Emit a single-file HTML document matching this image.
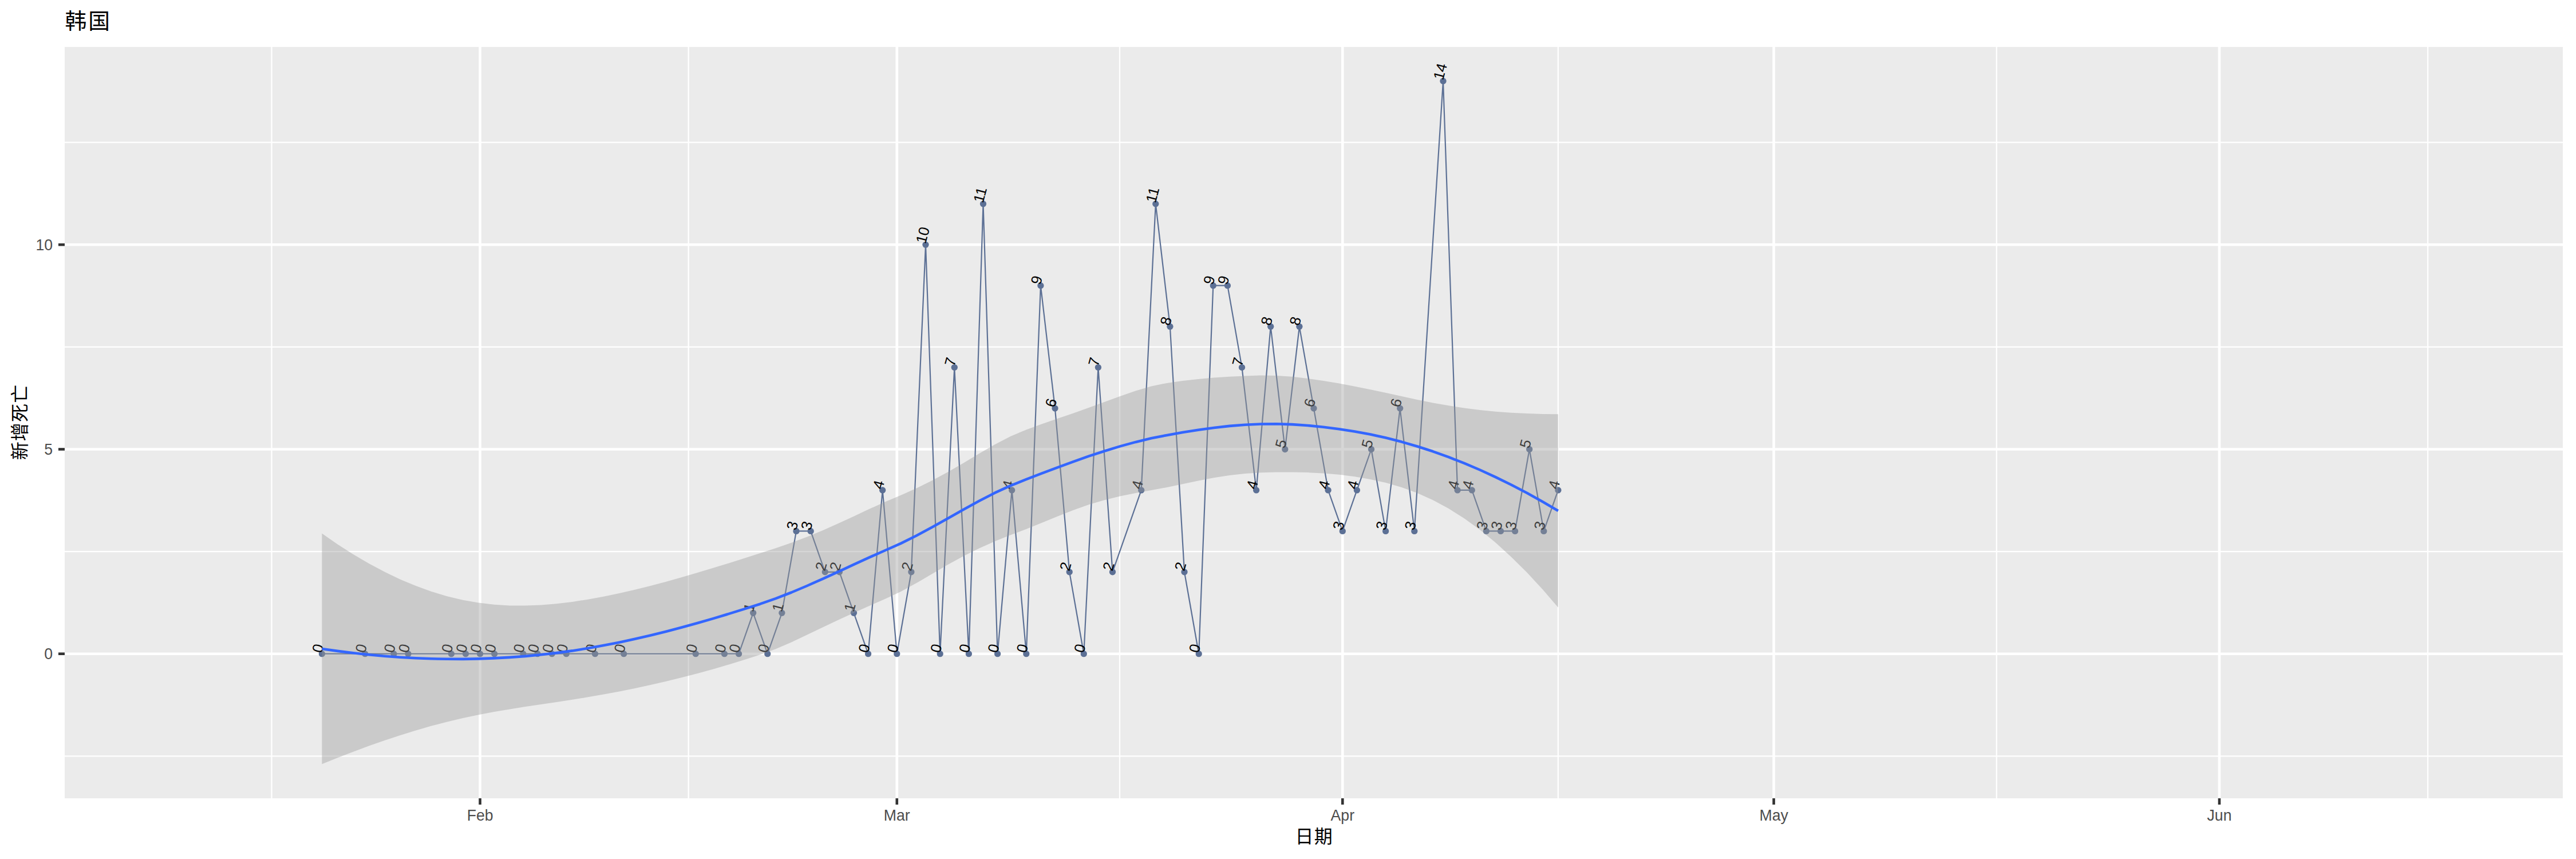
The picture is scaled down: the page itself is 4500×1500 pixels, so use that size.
<!DOCTYPE html>
<html lang="zh"><head><meta charset="utf-8"><title>韩国 新增死亡</title>
<style>
html,body{margin:0;padding:0;background:#fff;}
body{width:4500px;height:1500px;overflow:hidden;}
svg{display:block;}
text{font-family:"Liberation Sans","Noto Sans CJK SC",sans-serif;}
.cjk{font-family:"Liberation Sans","Noto Sans CJK SC",sans-serif;fill:#000;}
.tick{fill:#4D4D4D;font-size:26.67px;}
.lab{fill:#000;font-size:25.8px;}
.gmaj{stroke:#fff;stroke-width:4.6;fill:none;}
.gmin{stroke:#fff;stroke-width:2.3;fill:none;}
.tk{stroke:#333;stroke-width:4.6;fill:none;}
</style></head><body>
<svg width="4500" height="1500" viewBox="0 0 4500 1500">
<rect x="0" y="0" width="4500" height="1500" fill="#fff"/>
<rect x="113" y="82" width="4364" height="1312" fill="#EBEBEB"/>
<g class="gmin">
<line x1="113" x2="4477" y1="1320.3" y2="1320.3"/>
<line x1="113" x2="4477" y1="963.1" y2="963.1"/>
<line x1="113" x2="4477" y1="605.9" y2="605.9"/>
<line x1="113" x2="4477" y1="248.7" y2="248.7"/>
<line y1="82" y2="1394" x1="474.5" x2="474.5"/>
<line y1="82" y2="1394" x1="1202.7" x2="1202.7"/>
<line y1="82" y2="1394" x1="1956" x2="1956"/>
<line y1="82" y2="1394" x1="2721.9" x2="2721.9"/>
<line y1="82" y2="1394" x1="3487.8" x2="3487.8"/>
<line y1="82" y2="1394" x1="4241.1" x2="4241.1"/>
</g><g class="gmaj">
<line x1="113" x2="4477" y1="1141.7" y2="1141.7"/>
<line x1="113" x2="4477" y1="784.5" y2="784.5"/>
<line x1="113" x2="4477" y1="427.3" y2="427.3"/>
<line y1="82" y2="1394" x1="838.6" x2="838.6"/>
<line y1="82" y2="1394" x1="1566.8" x2="1566.8"/>
<line y1="82" y2="1394" x1="2345.3" x2="2345.3"/>
<line y1="82" y2="1394" x1="3098.6" x2="3098.6"/>
<line y1="82" y2="1394" x1="3877" x2="3877"/>
</g>
<polyline points="562.4,1141.7 637.7,1141.7 687.9,1141.7 713,1141.7 788.4,1141.7 813.5,1141.7 838.6,1141.7 863.7,1141.7 913.9,1141.7 939,1141.7 964.2,1141.7 989.3,1141.7 1039.5,1141.7 1089.7,1141.7 1215.3,1141.7 1265.5,1141.7 1290.6,1141.7 1315.7,1070.3 1340.8,1141.7 1365.9,1070.3 1391,927.4 1416.2,927.4 1441.3,998.8 1466.4,998.8 1491.5,1070.3 1516.6,1141.7 1541.7,855.9 1566.8,1141.7 1591.9,998.8 1617,427.3 1642.2,1141.7 1667.3,641.6 1692.4,1141.7 1717.5,355.9 1742.6,1141.7 1767.7,855.9 1792.8,1141.7 1817.9,498.7 1843,713.1 1868.2,998.8 1893.3,1141.7 1918.4,641.6 1943.5,998.8 1993.7,855.9 2018.8,355.9 2043.9,570.2 2069,998.8 2094.2,1141.7 2119.3,498.7 2144.4,498.7 2169.5,641.6 2194.6,855.9 2219.7,570.2 2244.8,784.5 2269.9,570.2 2295,713.1 2320.1,855.9 2345.3,927.4 2370.4,855.9 2395.5,784.5 2420.6,927.4 2445.7,713.1 2470.8,927.4 2521,141.5 2546.1,855.9 2571.3,855.9 2596.4,927.4 2621.5,927.4 2646.6,927.4 2671.7,784.5 2696.8,927.4 2721.9,855.9" fill="none" stroke="#5C7095" stroke-width="2.2" stroke-linejoin="round" stroke-linecap="butt"/>
<g fill="#5C7095">
<circle cx="562.4" cy="1141.7" r="5.65"/>
<circle cx="637.7" cy="1141.7" r="5.65"/>
<circle cx="687.9" cy="1141.7" r="5.65"/>
<circle cx="713" cy="1141.7" r="5.65"/>
<circle cx="788.4" cy="1141.7" r="5.65"/>
<circle cx="813.5" cy="1141.7" r="5.65"/>
<circle cx="838.6" cy="1141.7" r="5.65"/>
<circle cx="863.7" cy="1141.7" r="5.65"/>
<circle cx="913.9" cy="1141.7" r="5.65"/>
<circle cx="939" cy="1141.7" r="5.65"/>
<circle cx="964.2" cy="1141.7" r="5.65"/>
<circle cx="989.3" cy="1141.7" r="5.65"/>
<circle cx="1039.5" cy="1141.7" r="5.65"/>
<circle cx="1089.7" cy="1141.7" r="5.65"/>
<circle cx="1215.3" cy="1141.7" r="5.65"/>
<circle cx="1265.5" cy="1141.7" r="5.65"/>
<circle cx="1290.6" cy="1141.7" r="5.65"/>
<circle cx="1315.7" cy="1070.3" r="5.65"/>
<circle cx="1340.8" cy="1141.7" r="5.65"/>
<circle cx="1365.9" cy="1070.3" r="5.65"/>
<circle cx="1391" cy="927.4" r="5.65"/>
<circle cx="1416.2" cy="927.4" r="5.65"/>
<circle cx="1441.3" cy="998.8" r="5.65"/>
<circle cx="1466.4" cy="998.8" r="5.65"/>
<circle cx="1491.5" cy="1070.3" r="5.65"/>
<circle cx="1516.6" cy="1141.7" r="5.65"/>
<circle cx="1541.7" cy="855.9" r="5.65"/>
<circle cx="1566.8" cy="1141.7" r="5.65"/>
<circle cx="1591.9" cy="998.8" r="5.65"/>
<circle cx="1617" cy="427.3" r="5.65"/>
<circle cx="1642.2" cy="1141.7" r="5.65"/>
<circle cx="1667.3" cy="641.6" r="5.65"/>
<circle cx="1692.4" cy="1141.7" r="5.65"/>
<circle cx="1717.5" cy="355.9" r="5.65"/>
<circle cx="1742.6" cy="1141.7" r="5.65"/>
<circle cx="1767.7" cy="855.9" r="5.65"/>
<circle cx="1792.8" cy="1141.7" r="5.65"/>
<circle cx="1817.9" cy="498.7" r="5.65"/>
<circle cx="1843" cy="713.1" r="5.65"/>
<circle cx="1868.2" cy="998.8" r="5.65"/>
<circle cx="1893.3" cy="1141.7" r="5.65"/>
<circle cx="1918.4" cy="641.6" r="5.65"/>
<circle cx="1943.5" cy="998.8" r="5.65"/>
<circle cx="1993.7" cy="855.9" r="5.65"/>
<circle cx="2018.8" cy="355.9" r="5.65"/>
<circle cx="2043.9" cy="570.2" r="5.65"/>
<circle cx="2069" cy="998.8" r="5.65"/>
<circle cx="2094.2" cy="1141.7" r="5.65"/>
<circle cx="2119.3" cy="498.7" r="5.65"/>
<circle cx="2144.4" cy="498.7" r="5.65"/>
<circle cx="2169.5" cy="641.6" r="5.65"/>
<circle cx="2194.6" cy="855.9" r="5.65"/>
<circle cx="2219.7" cy="570.2" r="5.65"/>
<circle cx="2244.8" cy="784.5" r="5.65"/>
<circle cx="2269.9" cy="570.2" r="5.65"/>
<circle cx="2295" cy="713.1" r="5.65"/>
<circle cx="2320.1" cy="855.9" r="5.65"/>
<circle cx="2345.3" cy="927.4" r="5.65"/>
<circle cx="2370.4" cy="855.9" r="5.65"/>
<circle cx="2395.5" cy="784.5" r="5.65"/>
<circle cx="2420.6" cy="927.4" r="5.65"/>
<circle cx="2445.7" cy="713.1" r="5.65"/>
<circle cx="2470.8" cy="927.4" r="5.65"/>
<circle cx="2521" cy="141.5" r="5.65"/>
<circle cx="2546.1" cy="855.9" r="5.65"/>
<circle cx="2571.3" cy="855.9" r="5.65"/>
<circle cx="2596.4" cy="927.4" r="5.65"/>
<circle cx="2621.5" cy="927.4" r="5.65"/>
<circle cx="2646.6" cy="927.4" r="5.65"/>
<circle cx="2671.7" cy="784.5" r="5.65"/>
<circle cx="2696.8" cy="927.4" r="5.65"/>
<circle cx="2721.9" cy="855.9" r="5.65"/>
</g>
<g class="lab">
<text transform="translate(562.1 1141.2) rotate(-75)">0</text>
<text transform="translate(637.4 1141.2) rotate(-75)">0</text>
<text transform="translate(687.6 1141.2) rotate(-75)">0</text>
<text transform="translate(712.7 1141.2) rotate(-75)">0</text>
<text transform="translate(788.1 1141.2) rotate(-75)">0</text>
<text transform="translate(813.2 1141.2) rotate(-75)">0</text>
<text transform="translate(838.3 1141.2) rotate(-75)">0</text>
<text transform="translate(863.4 1141.2) rotate(-75)">0</text>
<text transform="translate(913.6 1141.2) rotate(-75)">0</text>
<text transform="translate(938.7 1141.2) rotate(-75)">0</text>
<text transform="translate(963.9 1141.2) rotate(-75)">0</text>
<text transform="translate(989 1141.2) rotate(-75)">0</text>
<text transform="translate(1039.2 1141.2) rotate(-75)">0</text>
<text transform="translate(1089.4 1141.2) rotate(-75)">0</text>
<text transform="translate(1215 1141.2) rotate(-75)">0</text>
<text transform="translate(1265.2 1141.2) rotate(-75)">0</text>
<text transform="translate(1290.3 1141.2) rotate(-75)">0</text>
<text transform="translate(1315.4 1069.8) rotate(-75)">1</text>
<text transform="translate(1340.5 1141.2) rotate(-75)">0</text>
<text transform="translate(1365.6 1069.8) rotate(-75)">1</text>
<text transform="translate(1390.7 926.9) rotate(-75)">3</text>
<text transform="translate(1415.9 926.9) rotate(-75)">3</text>
<text transform="translate(1441 998.3) rotate(-75)">2</text>
<text transform="translate(1466.1 998.3) rotate(-75)">2</text>
<text transform="translate(1491.2 1069.8) rotate(-75)">1</text>
<text transform="translate(1516.3 1141.2) rotate(-75)">0</text>
<text transform="translate(1541.4 855.4) rotate(-75)">4</text>
<text transform="translate(1566.5 1141.2) rotate(-75)">0</text>
<text transform="translate(1591.6 998.3) rotate(-75)">2</text>
<text transform="translate(1616.7 426.8) rotate(-75)">10</text>
<text transform="translate(1641.9 1141.2) rotate(-75)">0</text>
<text transform="translate(1667 641.1) rotate(-75)">7</text>
<text transform="translate(1692.1 1141.2) rotate(-75)">0</text>
<text transform="translate(1717.2 355.4) rotate(-75)">11</text>
<text transform="translate(1742.3 1141.2) rotate(-75)">0</text>
<text transform="translate(1767.4 855.4) rotate(-75)">4</text>
<text transform="translate(1792.5 1141.2) rotate(-75)">0</text>
<text transform="translate(1817.6 498.2) rotate(-75)">9</text>
<text transform="translate(1842.7 712.6) rotate(-75)">6</text>
<text transform="translate(1867.9 998.3) rotate(-75)">2</text>
<text transform="translate(1893 1141.2) rotate(-75)">0</text>
<text transform="translate(1918.1 641.1) rotate(-75)">7</text>
<text transform="translate(1943.2 998.3) rotate(-75)">2</text>
<text transform="translate(1993.4 855.4) rotate(-75)">4</text>
<text transform="translate(2018.5 355.4) rotate(-75)">11</text>
<text transform="translate(2043.6 569.7) rotate(-75)">8</text>
<text transform="translate(2068.7 998.3) rotate(-75)">2</text>
<text transform="translate(2093.8 1141.2) rotate(-75)">0</text>
<text transform="translate(2119 498.2) rotate(-75)">9</text>
<text transform="translate(2144.1 498.2) rotate(-75)">9</text>
<text transform="translate(2169.2 641.1) rotate(-75)">7</text>
<text transform="translate(2194.3 855.4) rotate(-75)">4</text>
<text transform="translate(2219.4 569.7) rotate(-75)">8</text>
<text transform="translate(2244.5 784) rotate(-75)">5</text>
<text transform="translate(2269.6 569.7) rotate(-75)">8</text>
<text transform="translate(2294.7 712.6) rotate(-75)">6</text>
<text transform="translate(2319.8 855.4) rotate(-75)">4</text>
<text transform="translate(2345 926.9) rotate(-75)">3</text>
<text transform="translate(2370.1 855.4) rotate(-75)">4</text>
<text transform="translate(2395.2 784) rotate(-75)">5</text>
<text transform="translate(2420.3 926.9) rotate(-75)">3</text>
<text transform="translate(2445.4 712.6) rotate(-75)">6</text>
<text transform="translate(2470.5 926.9) rotate(-75)">3</text>
<text transform="translate(2520.7 141) rotate(-75)">14</text>
<text transform="translate(2545.8 855.4) rotate(-75)">4</text>
<text transform="translate(2571 855.4) rotate(-75)">4</text>
<text transform="translate(2596.1 926.9) rotate(-75)">3</text>
<text transform="translate(2621.2 926.9) rotate(-75)">3</text>
<text transform="translate(2646.3 926.9) rotate(-75)">3</text>
<text transform="translate(2671.4 784) rotate(-75)">5</text>
<text transform="translate(2696.5 926.9) rotate(-75)">3</text>
<text transform="translate(2721.6 855.4) rotate(-75)">4</text>
</g>
<polygon points="562.4,931.6 589.7,950.5 617.1,968 644.4,984.1 671.7,998.6 699.1,1011.7 726.4,1023.1 753.7,1033 781.1,1041.2 808.4,1047.7 835.7,1052.5 863.1,1055.8 890.4,1057.4 917.7,1057.6 945.1,1056.5 972.4,1054.2 999.8,1050.9 1027.1,1046.7 1054.4,1041.7 1081.8,1036 1109.1,1029.8 1136.4,1023 1163.8,1015.7 1191.1,1008.1 1218.4,1000.1 1245.8,991.8 1273.1,983.4 1300.5,974.8 1327.8,966.1 1355.1,957.2 1382.5,947.7 1409.8,937.4 1437.1,926.2 1464.5,914.1 1491.8,901.4 1519.1,888.6 1546.5,876.3 1573.8,864.8 1601.1,852.4 1628.5,839 1655.8,824.3 1683.2,808.5 1710.5,792.1 1737.8,776.2 1765.2,762 1792.5,750.5 1819.8,740.5 1847.2,731.1 1874.5,721.8 1901.8,712.1 1929.2,702.1 1956.5,692.1 1983.9,682.6 2011.2,674.6 2038.5,668.9 2065.9,664.9 2093.2,661.9 2120.5,659.6 2147.9,657.8 2175.2,656.4 2202.5,655.6 2229.9,655.9 2257.2,657.8 2284.5,661 2311.9,665 2339.2,669.6 2366.6,674.7 2393.9,680.3 2421.2,686.1 2448.6,692.1 2475.9,697.9 2503.2,703.4 2530.6,708.3 2557.9,712.5 2585.2,716 2612.6,718.7 2639.9,720.7 2667.3,722 2694.6,722.9 2721.9,723.2 2721.9,1060.8 2694.6,1029.1 2667.3,999.6 2639.9,972.4 2612.6,947.5 2585.2,925.1 2557.9,905.3 2530.6,888 2503.2,873.3 2475.9,861.1 2448.6,851.1 2421.2,843.1 2393.9,836.9 2366.6,832.2 2339.2,828.8 2311.9,826.4 2284.5,825.1 2257.2,824.5 2229.9,824.5 2202.5,825.3 2175.2,827.1 2147.9,830.1 2120.5,834.3 2093.2,839.5 2065.9,845.2 2038.5,850.9 2011.2,856.1 1983.9,861.1 1956.5,866.6 1929.2,873.3 1901.8,881.3 1874.5,890.9 1847.2,901.7 1819.8,913 1792.5,924 1765.2,934.3 1737.8,945.3 1710.5,957.4 1683.2,971 1655.8,986.1 1628.5,1002.1 1601.1,1018.1 1573.8,1033.1 1546.5,1045.8 1519.1,1057.7 1491.8,1069.9 1464.5,1082.5 1437.1,1095.5 1409.8,1108.6 1382.5,1121.4 1355.1,1133.2 1327.8,1143.2 1300.5,1152.1 1273.1,1160.4 1245.8,1168.4 1218.4,1175.9 1191.1,1183 1163.8,1189.7 1136.4,1196 1109.1,1201.9 1081.8,1207.4 1054.4,1212.5 1027.1,1217.3 999.8,1221.8 972.4,1226 945.1,1230.1 917.7,1234.1 890.4,1238.4 863.1,1243 835.7,1248.2 808.4,1254 781.1,1260.5 753.7,1267.6 726.4,1275.5 699.1,1283.9 671.7,1292.9 644.4,1302.6 617.1,1312.7 589.7,1323.3 562.4,1334.3" fill="#999999" fill-opacity="0.4" stroke="none"/>
<polyline points="562.4,1133 589.7,1136.9 617.1,1140.3 644.4,1143.3 671.7,1145.8 699.1,1147.8 726.4,1149.3 753.7,1150.3 781.1,1150.8 808.4,1150.9 835.7,1150.4 863.1,1149.4 890.4,1147.9 917.7,1145.9 945.1,1143.3 972.4,1140.1 999.8,1136.4 1027.1,1132 1054.4,1127.1 1081.8,1121.7 1109.1,1115.8 1136.4,1109.5 1163.8,1102.7 1191.1,1095.5 1218.4,1088 1245.8,1080.1 1273.1,1071.9 1300.5,1063.4 1327.8,1054.7 1355.1,1045.2 1382.5,1034.5 1409.8,1023 1437.1,1010.8 1464.5,998.3 1491.8,985.7 1519.1,973.2 1546.5,961 1573.8,948.9 1601.1,935.3 1628.5,920.5 1655.8,905.2 1683.2,889.8 1710.5,874.8 1737.8,860.7 1765.2,848.1 1792.5,837.2 1819.8,826.7 1847.2,816.4 1874.5,806.3 1901.8,796.7 1929.2,787.7 1956.5,779.4 1983.9,771.9 2011.2,765.3 2038.5,759.9 2065.9,755 2093.2,750.7 2120.5,747 2147.9,743.9 2175.2,741.7 2202.5,740.5 2229.9,740.2 2257.2,741.1 2284.5,743 2311.9,745.7 2339.2,749.2 2366.6,753.4 2393.9,758.6 2421.2,764.6 2448.6,771.6 2475.9,779.5 2503.2,788.3 2530.6,798.2 2557.9,808.9 2585.2,820.5 2612.6,833.1 2639.9,846.5 2667.3,860.8 2694.6,876 2721.9,892" fill="none" stroke="#3366FF" stroke-width="4.6" stroke-linejoin="round"/>
<g class="tk">
<line x1="102" x2="113" y1="1141.7" y2="1141.7"/>
<line x1="102" x2="113" y1="784.5" y2="784.5"/>
<line x1="102" x2="113" y1="427.3" y2="427.3"/>
<line y1="1394" y2="1405" x1="838.6" x2="838.6"/>
<line y1="1394" y2="1405" x1="1566.8" x2="1566.8"/>
<line y1="1394" y2="1405" x1="2345.3" x2="2345.3"/>
<line y1="1394" y2="1405" x1="3098.6" x2="3098.6"/>
<line y1="1394" y2="1405" x1="3877" x2="3877"/>
</g>
<g class="tick">
<text transform="translate(92.2 1151.2) scale(1 1.045)" text-anchor="end">0</text>
<text transform="translate(92.2 794) scale(1 1.045)" text-anchor="end">5</text>
<text transform="translate(92.2 436.8) scale(1 1.045)" text-anchor="end">10</text>
<text transform="translate(838.6 1432.8) scale(1 1.045)" text-anchor="middle">Feb</text>
<text transform="translate(1566.8 1432.8) scale(1 1.045)" text-anchor="middle">Mar</text>
<text transform="translate(2345.3 1432.8) scale(1 1.045)" text-anchor="middle">Apr</text>
<text transform="translate(3098.6 1432.8) scale(1 1.045)" text-anchor="middle">May</text>
<text transform="translate(3877 1432.8) scale(1 1.045)" text-anchor="middle">Jun</text>
</g>
<text class="cjk" x="2262.6" y="1471.7" letter-spacing="1.2" font-size="32">日期</text>
<text class="cjk" transform="translate(45.8 803.3) rotate(-90)" letter-spacing="1.17" font-size="32">新增死亡</text>
<text class="cjk" x="113.5" y="49.6" letter-spacing="2.9" font-size="37.8">韩国</text>
</svg></body></html>
